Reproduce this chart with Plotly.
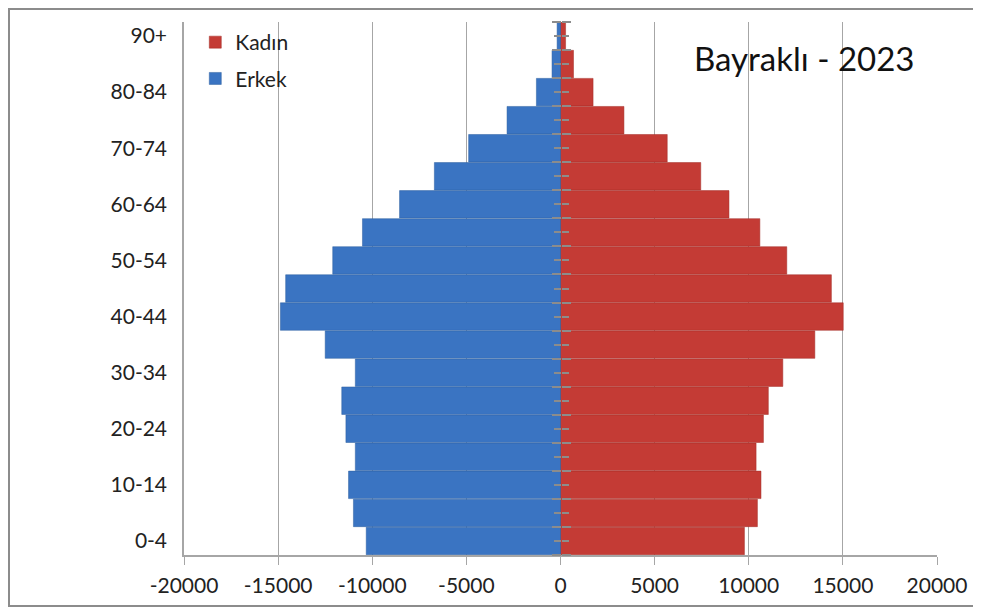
import plotly.graph_objects as go

age_groups = ["0-4", "5-9", "10-14", "15-19", "20-24", "25-29", "30-34", "35-39",
              "40-44", "45-49", "50-54", "55-59", "60-64", "65-69", "70-74",
              "75-79", "80-84", "85-89", "90+"]
erkek = [-10320, -11000, -11260, -10900, -11400, -11620, -10900, -12500,
         -14880, -14600, -12100, -10520, -8550, -6700, -4880,
         -2840, -1280, -450, -180]
kadin = [9770, 10460, 10650, 10390, 10780, 11040, 11810, 13510,
         15020, 14390, 12020, 10590, 8950, 7450, 5670,
         3370, 1730, 690, 270]
x_ticks = [-20000, -15000, -10000, -5000, 0, 5000, 10000, 15000, 20000]
title_text = "Bayraklı - 2023"

FONT = "Lato"
GRID = "#a6a6a6"

n = len(age_groups)
edges = [i - 0.5 for i in range(n + 1)]
centers = list(range(n))

fig = go.Figure()
fig.add_trace(go.Bar(y=age_groups, x=kadin, orientation="h", name="Kadın",
                     legendgroup="k",
                     marker=dict(color="#c43b35", line=dict(color="#a32c26", width=0.5))))
fig.add_trace(go.Bar(y=age_groups, x=erkek, orientation="h", name="Erkek",
                     legendgroup="e",
                     marker=dict(color="#3a74c2", line=dict(color="#2c5e9e", width=0.5))))
# invisible helpers so the zero-line tick axes get drawn
for ax in ["y2", "y3"]:
    fig.add_trace(go.Scatter(x=kadin, y=centers, yaxis=ax, mode="markers",
                             marker=dict(opacity=0), showlegend=False,
                             hoverinfo="skip"))

# the page body adds 8px, so margins are shifted by that
fig.update_layout(
    width=981, height=610,
    barmode="relative", bargap=0.02,
    plot_bgcolor="white", paper_bgcolor="white",
    margin=dict(l=176, r=52, t=14, b=63, autoexpand=False),
    font=dict(family=FONT, size=21, color="#222"),
    legend=dict(x=0.015, y=1.0, xanchor="left", yanchor="top",
                bgcolor="rgba(0,0,0,0)", font=dict(size=21), itemwidth=30,
                tracegroupgap=6),
    showlegend=True,
)
fig.update_xaxes(range=[-20000, 20000], tickvals=x_ticks,
                 ticktext=[str(v) for v in x_ticks],
                 showgrid=True, gridcolor=GRID, gridwidth=1,
                 zeroline=True, zerolinecolor=GRID, zerolinewidth=1.5,
                 showline=True, linecolor=GRID, linewidth=1.5,
                 ticks="outside", ticklen=8, tickcolor=GRID, ticklabelstandoff=3,
                 fixedrange=True)
fig.update_yaxes(type="category", categoryorder="array", categoryarray=age_groups,
                 tickvals=age_groups[::2], showgrid=False,
                 showline=True, linecolor=GRID, linewidth=1.5,
                 ticks="", ticklabelstandoff=11, fixedrange=True)

# tick marks on the zero line, both sides
tick_axis = dict(overlaying="y", anchor="free", position=0.5, type="linear",
                 range=[-0.5, n - 0.5], showgrid=False, zeroline=False,
                 showline=False, showticklabels=False, fixedrange=True,
                 ticks="outside", tickmode="array", tickvals=edges, ticklen=9,
                 tickcolor="#8c8c8c", tickwidth=1.5,
                 minor=dict(tickmode="array", tickvals=centers, ticks="outside",
                            ticklen=7, tickcolor="#8c8c8c", tickwidth=1.5,
                            showgrid=False))
fig.update_layout(yaxis2=dict(side="left", **tick_axis),
                  yaxis3=dict(side="right", **tick_axis))

fig.add_annotation(text=title_text, xref="paper", yref="paper", x=0.823, y=0.932,
                   xanchor="center", yanchor="middle",
                   showarrow=False, font=dict(size=33, color="#111"))

fig.add_shape(type="rect", xref="paper", yref="paper",
              x0=-0.2324, x1=1.0544, y0=-0.0957, y1=1.0244,
              line=dict(color="#8c8c8c", width=2), layer="below")

fig.write_html("out.html")
